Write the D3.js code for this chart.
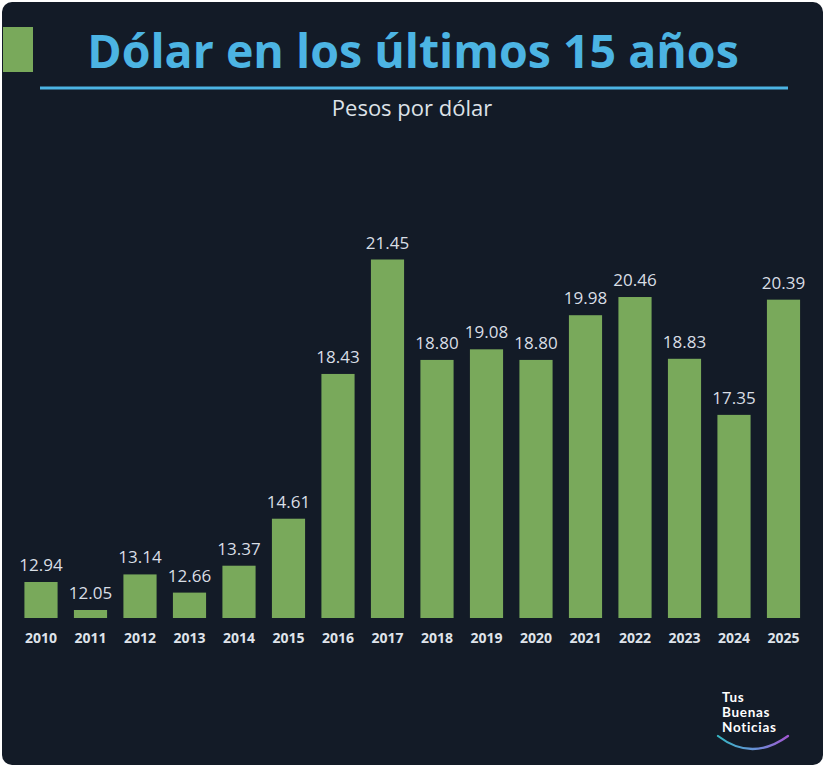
<!DOCTYPE html>
<html>
<head>
<meta charset="utf-8">
<script src="https://cdn.jsdelivr.net/npm/d3@7"></script>
<style>
  html, body { margin: 0; padding: 0; background: #ffffff; }
  svg { display: block; }
</style>
</head>
<body>
<svg id="chart" width="825" height="768"></svg>
<script>
// ---- Data ----
const years = ["2010","2011","2012","2013","2014","2015","2016","2017","2018","2019","2020","2021","2022","2023","2024","2025"];
const values = [12.94, 12.05, 13.14, 12.66, 13.37, 14.61, 18.43, 21.45, 18.80, 19.08, 18.80, 19.98, 20.46, 18.83, 17.35, 20.39];
const valueLabels = ["12.94","12.05","13.14","12.66","13.37","14.61","18.43","21.45","18.80","19.08","18.80","19.98","20.46","18.83","17.35","20.39"];
const titleText = "Dólar en los últimos 15 años";
const subtitleText = "Pesos por dólar";
const logoLines = ["Tus", "Buenas", "Noticias"];

const data = years.map((y, i) => ({ year: y, value: values[i], label: valueLabels[i] }));

const svg = d3.select("#chart");

// Panel
svg.append("rect")
  .attr("x", 2).attr("y", 2)
  .attr("width", 821).attr("height", 763)
  .attr("rx", 10).attr("ry", 10)
  .attr("fill", "#131b27");

// Green square marker
svg.append("rect")
  .attr("x", 3).attr("y", 27)
  .attr("width", 30).attr("height", 45)
  .attr("fill", "#79a95b");

// Title
svg.append("text")
  .attr("x", 413).attr("y", 68)
  .attr("text-anchor", "middle")
  .attr("font-family", "'Open Sans', sans-serif")
  .attr("font-weight", 700)
  .attr("font-size", 46.5)
  .attr("fill", "#4cb4e3")
  .text(titleText);

// Blue rule
svg.append("rect")
  .attr("x", 40).attr("y", 86.5)
  .attr("width", 748).attr("height", 3)
  .attr("fill", "#4cb4e3");

// Subtitle
svg.append("text")
  .attr("x", 412).attr("y", 116)
  .attr("text-anchor", "middle")
  .attr("font-family", "'Open Sans', sans-serif")
  .attr("font-size", 22)
  .attr("fill", "#dde2e8")
  .text(subtitleText);

// Scales
const x = d3.scaleBand()
  .domain(years)
  .range([16.25, 808.25])
  .paddingInner(0.33)
  .paddingOuter(0.165);

const baseY = 618;
const y = d3.scaleLinear()
  .domain([11.99, 21.45])
  .range([baseY, 259.5]);

const minH = 8; // minimum visible bar height, as in the reference
const barTop = d => Math.min(y(d.value), baseY - minH);

// Bars
svg.append("g").selectAll("rect")
  .data(data)
  .join("rect")
  .attr("x", d => x(d.year))
  .attr("y", d => barTop(d))
  .attr("width", x.bandwidth())
  .attr("height", d => baseY - barTop(d))
  .attr("fill", "#79a95b");

// Value labels
svg.append("g").selectAll("text")
  .data(data)
  .join("text")
  .attr("x", d => x(d.year) + x.bandwidth() / 2)
  .attr("y", d => barTop(d) - 11)
  .attr("text-anchor", "middle")
  .attr("font-family", "'Open Sans', sans-serif")
  .attr("font-size", 17)
  .attr("fill", "#d9dee5")
  .text(d => d.label);

// X axis (year labels)
const xAxis = d3.axisBottom(x).tickSize(0).tickPadding(0);
const gx = svg.append("g")
  .attr("transform", `translate(0, ${baseY})`)
  .call(xAxis);
gx.select(".domain").remove();
gx.selectAll("text")
  .attr("y", 25)
  .attr("dy", 0)
  .attr("font-family", "'Open Sans', sans-serif")
  .attr("font-weight", 700)
  .attr("font-size", 14)
  .attr("fill", "#dfe3ea");

// Logo
const logo = svg.append("g");
logo.selectAll("text")
  .data(logoLines)
  .join("text")
  .attr("x", 722)
  .attr("y", (d, i) => 701.5 + i * 15)
  .attr("font-family", "Lato, sans-serif")
  .attr("font-weight", 700)
  .attr("font-size", 13.5)
  .attr("letter-spacing", 0.7)
  .attr("fill", "#ffffff")
  .text(d => d);

const defs = svg.append("defs");
const grad = defs.append("linearGradient")
  .attr("id", "arcGrad")
  .attr("x1", "0%").attr("x2", "100%")
  .attr("y1", "0%").attr("y2", "0%");
grad.append("stop").attr("offset", "0%").attr("stop-color", "#36b6c4");
grad.append("stop").attr("offset", "55%").attr("stop-color", "#6a8fd6");
grad.append("stop").attr("offset", "100%").attr("stop-color", "#a257d2");

logo.append("path")
  .attr("d", "M718,736 Q752,762 788,736")
  .attr("fill", "none")
  .attr("stroke", "url(#arcGrad)")
  .attr("stroke-width", 2.2)
  .attr("stroke-linecap", "round");
</script>
</body>
</html>
